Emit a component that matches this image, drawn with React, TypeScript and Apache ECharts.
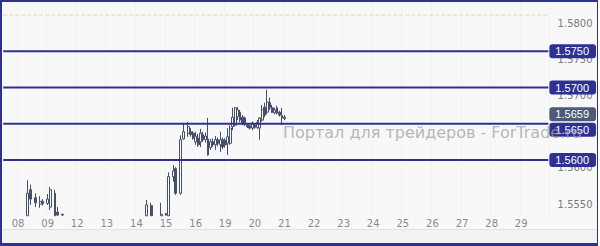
import React, { useEffect, useRef } from "react";
import * as echarts from "echarts";

// Day labels (2-hour candles, 12 per trading day)
const days = ["08", "09", "12", "13", "14", "15", "16", "19", "20", "21", "22", "23", "24", "25", "26", "27", "28", "29"];
const leadSlots = ["07 12:00", "07 14:00", "07 16:00", "07 18:00", "07 20:00", "07 22:00"];
const SLOTS_PER_DAY = 12;

// Candles: [slot, open, close, low, high] (values below the visible floor read as the floor)
const candlesEarly: number[][] = [
  [10, 1.5523, 1.5554, 1.5523, 1.5572],
  [11, 1.5559, 1.5546, 1.5538, 1.5566],
  [13, 1.5548, 1.5541, 1.5535, 1.5554],
  [15, 1.5539, 1.5543, 1.5534, 1.555],
  [16, 1.5543, 1.554, 1.5537, 1.5546],
  [18, 1.554, 1.5546, 1.5538, 1.5553],
  [19, 1.5535, 1.5559, 1.5531, 1.5563],
  [21, 1.5554, 1.5523, 1.5523, 1.5559],
  [22, 1.5528, 1.5524, 1.5523, 1.5535],
  [24, 1.5524, 1.5525, 1.5523, 1.5526],
];
const candlesMid: number[][] = [
  [58, 1.5523, 1.5538, 1.5523, 1.5545],
  [60, 1.5537, 1.5523, 1.5523, 1.5541],
  [64, 1.5523, 1.5525, 1.5523, 1.5541],
  [66, 1.5524, 1.5526, 1.5523, 1.5527],
  [67, 1.5523, 1.5577, 1.5523, 1.5583],
  [69, 1.5577, 1.5585, 1.557, 1.5593],
  [70, 1.5588, 1.5554, 1.5552, 1.559],
  [72, 1.5554, 1.5628, 1.5552, 1.5634],
  [73, 1.5629, 1.5639, 1.5628, 1.5651],
  [75, 1.5637, 1.5646, 1.5632, 1.5652],
];
const candlesLate: number[][] = [
  [76, 1.5639, 1.5635, 1.5632, 1.5644],
  [77, 1.5637, 1.563, 1.5628, 1.564],
  [78, 1.5625, 1.5633, 1.5621, 1.5639],
  [79, 1.563, 1.5621, 1.5618, 1.5636],
  [80, 1.5625, 1.5637, 1.5618, 1.5643],
  [81, 1.5635, 1.5628, 1.5625, 1.5639],
  [82, 1.5628, 1.5633, 1.5624, 1.5638],
  [83, 1.5629, 1.5607, 1.5606, 1.5658],
  [84, 1.5617, 1.5625, 1.5614, 1.5629],
  [85, 1.5625, 1.5621, 1.5618, 1.563],
  [86, 1.5621, 1.5628, 1.5614, 1.5633],
  [87, 1.5628, 1.5623, 1.5619, 1.5631],
  [88, 1.5621, 1.5628, 1.5611, 1.5639],
  [89, 1.5628, 1.5618, 1.5615, 1.5631],
  [90, 1.5627, 1.5621, 1.5617, 1.563],
  [91, 1.5623, 1.5632, 1.5607, 1.5644],
  [92, 1.5623, 1.5644, 1.5621, 1.5648],
  [93, 1.5646, 1.5659, 1.5641, 1.5672],
  [94, 1.5648, 1.5672, 1.5646, 1.5673],
  [95, 1.566, 1.5669, 1.5655, 1.5673],
  [96, 1.5666, 1.5655, 1.5652, 1.5669],
  [97, 1.5659, 1.5651, 1.5648, 1.5662],
  [98, 1.5658, 1.565, 1.5647, 1.566],
  [99, 1.5648, 1.5646, 1.5644, 1.565],
  [100, 1.5647, 1.5644, 1.5642, 1.5649],
  [101, 1.5644, 1.5651, 1.5641, 1.5653],
  [102, 1.5648, 1.5645, 1.5643, 1.565],
  [103, 1.5645, 1.5652, 1.5643, 1.5655],
  [104, 1.5644, 1.5658, 1.5628, 1.5659],
  [105, 1.5655, 1.5669, 1.5653, 1.5676],
  [106, 1.5673, 1.5662, 1.5659, 1.5679],
  [107, 1.5666, 1.568, 1.5663, 1.5697],
  [108, 1.5679, 1.5672, 1.5669, 1.5686],
  [109, 1.5672, 1.5666, 1.5665, 1.5676],
  [110, 1.5665, 1.5669, 1.5663, 1.5672],
  [111, 1.5672, 1.5665, 1.5663, 1.5675],
  [112, 1.5666, 1.5662, 1.566, 1.5668],
  [113, 1.5661, 1.5658, 1.5648, 1.5672],
  [114, 1.5657, 1.5659, 1.5655, 1.5662],
];

const levelLines = [1.575, 1.57, 1.565, 1.56];
const dashedLevel = 1.58;
const lastPrice = 1.5659;
const yTicks = [1.555, 1.56, 1.565, 1.57, 1.575, 1.58];
const yMin = 1.55227;
const yMax = 1.5818;
const watermark = "Портал для трейдеров - ForTrade.ru";

const NAVY = "#2e3192";

export default function App() {
  const ref = useRef<HTMLDivElement>(null);
  useEffect(() => {
    if (!ref.current) return;
    const chart = echarts.init(ref.current, null, { renderer: "svg" });

    const categories: string[] = [...leadSlots];
    days.forEach((d) => {
      for (let h = 0; h < SLOTS_PER_DAY; h++) {
        categories.push(`${d} ${String(h * 2).padStart(2, "0")}:00`);
      }
    });
    const LEAD = leadSlots.length;
    const data: any[] = categories.map(() => ["-", "-", "-", "-"]);
    [...candlesEarly, ...candlesMid, ...candlesLate].forEach(([slot, o, c, l, h]) => {
      data[slot] = [o, c, l, h];
    });
    const isDayStart = (i: number) => i >= LEAD && (i - LEAD) % SLOTS_PER_DAY === 0;

    const boxLabel = (bg: string, dy: number) => ({
      show: true,
      distance: 1,
      offset: [0, dy],
      formatter: (p: any) => Number(Array.isArray(p.value) ? p.value[1] : p.value).toFixed(4),
      color: "#ffffff",
      backgroundColor: bg,
      borderRadius: 3,
      padding: [2, 7, 1, 6],
      fontFamily: "Liberation Sans",
      fontSize: 11,
    });

    const levelSeries = (value: number, lineStyle: any, label: any, z: number) => ({
      type: "line",
      data: categories.map(() => value),
      z,
      silent: true,
      showSymbol: false,
      symbol: "none",
      lineStyle,
      endLabel: label,
      labelLayout: { hideOverlap: false, moveOverlap: null },
      emphasis: { disabled: true },
    });

    chart.setOption({
      animation: false,
      backgroundColor: "transparent",
      grid: { left: 2, right: 50.4, top: 2, bottom: 30 },
      xAxis: {
        type: "category",
        data: categories,
        boundaryGap: true,
        axisLine: { show: false },
        axisTick: { show: false },
        axisLabel: {
          interval: (i: number) => isDayStart(i),
          formatter: (v: string) => v.slice(0, 2),
          color: "#8a8a8a",
          fontFamily: "DejaVu Sans",
          fontSize: 10,
          margin: 2,
        },
        splitLine: {
          show: true,
          interval: (i: number) => isDayStart(i),
          lineStyle: { color: "#ececec", type: "dotted", width: 1 },
        },
      },
      yAxis: {
        type: "value",
        position: "right",
        min: yMin,
        max: yMax,
        scale: true,
        axisLine: { show: false },
        axisTick: { show: false },
        splitLine: { show: false },
        axisLabel: {
          customValues: yTicks,
          formatter: (v: number) => v.toFixed(4),
          color: "#7a7a7a",
          fontFamily: "DejaVu Sans",
          fontSize: 10,
          margin: 8,
          verticalAlign: "top",
          padding: [3, 0, 0, 0],
          align: "left",
        },
      },
      series: [
        {
          type: "candlestick",
          data,
          barWidth: 2.4,
          z: 2,
          itemStyle: {
            color: "#ffffff",
            color0: "#454f69",
            borderColor: "#454f69",
            borderColor0: "#454f69",
            borderWidth: 1,
          },
        },
        levelSeries(dashedLevel, { color: "#e6d6b8", type: "dashed", width: 1 }, { show: false }, 1),
        ...levelLines.map((v) =>
          levelSeries(v, { color: NAVY, type: "solid", width: 2 }, boxLabel(NAVY, v === 1.565 ? 6 : 0), 3)
        ),
        levelSeries(lastPrice, { color: "#4e5b77", width: 0, opacity: 0 }, boxLabel("#4e5b77", -3), 4),
      ],
      graphic: [
        {
          type: "text",
          left: 283,
          top: 124,
          z: 100,
          silent: true,
          style: {
            text: watermark,
            fill: "rgba(160,160,160,0.75)",
            font: "16px 'DejaVu Sans'",
          },
        },
        { type: "rect", left: 0, top: 229, z: 1, shape: { width: 600, height: 1 }, style: { fill: "#e2e2e6" } },
        { type: "rect", left: 0, top: 230, z: 1, shape: { width: 600, height: 13 }, style: { fill: "#f3f3f5" } },
        { type: "rect", left: 0, top: 0, z: 200, shape: { width: 600, height: 2 }, style: { fill: NAVY } },
        { type: "rect", left: 0, top: 243, z: 200, shape: { width: 600, height: 3 }, style: { fill: NAVY } },
        { type: "rect", left: 0, top: 0, z: 200, shape: { width: 2, height: 246 }, style: { fill: NAVY } },
        { type: "rect", left: 597, top: 0, z: 200, shape: { width: 1, height: 246 }, style: { fill: NAVY } },
        { type: "rect", left: 598, top: 0, z: 200, shape: { width: 2, height: 246 }, style: { fill: "#ffffff" } },
      ],
    });
    return () => chart.dispose();
  }, []);

  return (
    <div
      ref={ref}
      style={{ position: "fixed", left: 0, top: 0, width: 600, height: 246, background: "#f8f8f8" }}
    />
  );
}
